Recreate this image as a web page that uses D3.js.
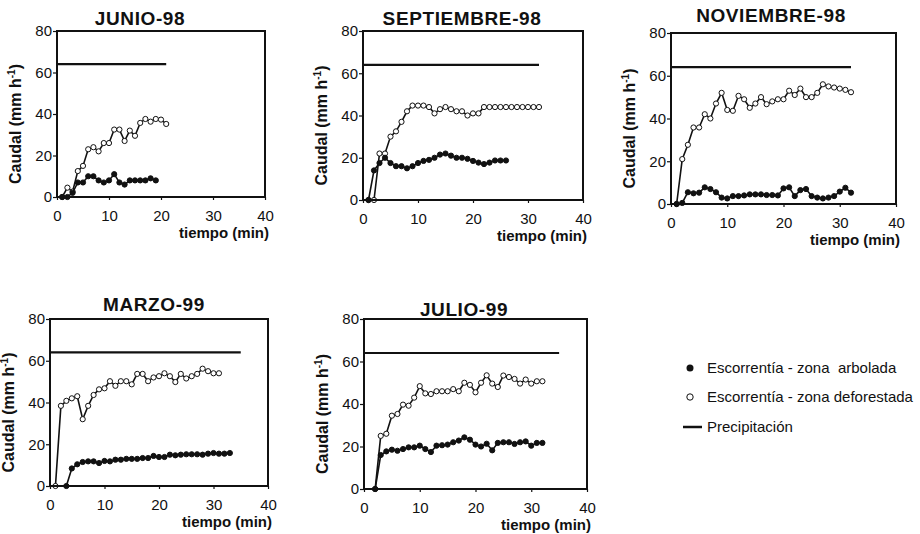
<!DOCTYPE html>
<html>
<head>
<meta charset="utf-8">
<script src="https://cdn.jsdelivr.net/npm/d3@7"></script>
<style>
    body { margin: 0; background: #fff; }
    svg text { font-family: "Liberation Sans", Arial, sans-serif; fill: #111; }
    .tick text { font-size: 15px; }
    .title { font-size: 19px; font-weight: bold; letter-spacing: 0.6px; }
    .xlab, .ylab { font-size: 15px; font-weight: bold; }
    .ylab { font-size: 16px; }
    .legend text { font-size: 15px; white-space: pre; }
</style>
</head>
<body>
<div id="chart"></div>
<script>

// readings every minute, first one at t = 1 min (null = no reading)
var junArbolada = [0, 0, 2, 7, 7, 10, 10, 8, 7, 8, 11, 7, 6, 8, 8, 8, 8, 9, 8];
var junDeforestada = [0, 4.5, 2.6, 12.5, 15, 23, 24, 22, 26, 26, 32.5, 32.5, 27, 32, 29.5,
    35.7, 37.6, 36.3, 37.6, 37.3, 35.2];

var sepArbolada = [0, 14, 17.5, 20, 17.5, 16, 16, 15, 16, 17.5, 18.5, 19, 20, 21.5, 22,
    21, 20, 20, 19.5, 18.5, 17.7, 17, 17.7, 18.7, 18.7, 18.7];
var sepDeforestada = [0, 0, 22, 22, 30, 32.5, 37, 42, 44.7, 44.7, 44.7, 44, 41, 43, 44,
    43, 42, 42, 40, 41, 41, 44, 44, 44, 44, 44, 44, 44, 44, 44, 44, 44];

var novArbolada = [0, 0.5, 5.5, 5, 5.3, 7.8, 7, 5.5, 3, 2.6, 3.7, 3.7, 4, 4.5, 4.5, 4.5,
    4.2, 4.2, 4, 7.3, 7.8, 3.7, 6.5, 7, 3.7, 3, 2.6, 3, 3.7, 5.8, 7.6, 5.3];
var novDeforestada = [0, 21, 27.7, 35.8, 35.8, 42, 40, 47, 52, 44, 43.6, 50.6, 49, 45, 47,
    50, 46.7, 48, 49, 49, 53, 51, 54, 50, 50, 52, 56, 55, 54.5, 54, 53.4, 52.3];

var marArbolada = [null, null, 0, 8.4, 10.4, 11.5, 11.8, 11.8, 11, 12, 11.8, 12.6, 12.6,
    13, 13, 13, 13.4, 13.4, 14.4, 13.9, 13.9, 15, 14.7, 15, 15.2, 15.2, 15.2, 15, 15.5,
    15.8, 15.5, 15.5, 15.8];
var marDeforestada = [0, 38.4, 40.8, 42, 43, 32, 38.4, 43.6, 46.3, 46.8, 50.2, 48, 50.2,
    50.2, 48.7, 53.7, 53.7, 50.2, 52, 52.6, 54, 52.6, 49.8, 53.7, 51.5, 52.6, 53.7, 56.2,
    55, 54, 54];

var julArbolada = [null, 0, 16, 17.7, 18.5, 18, 18.8, 19.6, 19.6, 20.4, 18.8, 17.4, 20.4,
    20.6, 20.9, 22, 22.8, 24.3, 23.2, 20.9, 20, 21.3, 18.2, 21.7, 22, 22, 21.2, 22, 22.4,
    20.4, 21.7, 21.7];
var julDeforestada = [null, 0, 25, 26, 34.5, 35.3, 39.7, 39.2, 43, 48.4, 45, 44.7, 46, 46,
    46, 47, 46, 50, 49, 45.5, 50, 53.5, 49.6, 48, 53.4, 52.7, 51.8, 49.6, 51.5, 49.6, 50.7,
    50.7];

// rainfall simulation: constant intensity from t = 0 to end of run
var precipRate = 64;
var precipEnd = [21, 32, 32, 35, 35];

var titles = ["JUNIO-98", "SEPTIEMBRE-98", "NOVIEMBRE-98", "MARZO-99", "JULIO-99"];
var xTicks = [0, 10, 20, 30, 40];
var yTicks = [0, 20, 40, 60, 80];
var legendLabels = ["Escorrentía - zona  arbolada", "Escorrentía - zona deforestada",
    "Precipitación"];


// figure settings
var fig = {
    w: 920,
    h: 534,
    xdomain: [0, 40],
    ydomain: [0, 80],
    boxwidth: 2, // frame around each panel
    linewidth: 1.6, // runoff lines
    precipwidth: 2.2, // rainfall line
    r: 2.6, // marker radius
    ink: "#111"
};

// panel frames [left, top, right, bottom] and title anchor [x, baseline]
var panels = [
    {box: [57, 31, 265, 197], title: [140, 25], arb: junArbolada, def: junDeforestada},
    {box: [363, 31, 583, 200], title: [462, 25], arb: sepArbolada, def: sepDeforestada},
    {box: [671, 33, 896, 204], title: [771, 22], arb: novArbolada, def: novDeforestada},
    {box: [50, 319, 268, 486], title: [154, 311], arb: marArbolada, def: marDeforestada},
    {box: [364, 319, 587, 489], title: [464, 316], arb: julArbolada, def: julDeforestada}
];


/**
 * Turn a list of per-minute readings into points, skipping missing ones
 */
function toPoints(values) {
    return values.map(function (v, i) {
        return {t: i + 1, v: v};
    }).filter(function (d) {
        return d.v !== null;
    });
}


var svg = d3.select("#chart").append("svg")
        .attr("width", fig.w).attr("height", fig.h);


/**
 * Draw one panel
 *
 * @param p panel settings (frame, title position, series)
 * @param k panel index
 */
function drawPanel(p, k) {

    var b = p.box;
    var xscale = d3.scaleLinear().domain(fig.xdomain).range([b[0], b[2]]);
    var yscale = d3.scaleLinear().domain(fig.ydomain).range([b[3], b[1]]);
    var g = svg.append("g").attr("class", "panel");

    // axes
    var gx = g.append("g").attr("transform", "translate(0," + b[3] + ")")
            .call(d3.axisBottom(xscale).tickValues(xTicks).tickSize(3).tickPadding(10));
    var gy = g.append("g").attr("transform", "translate(" + b[0] + ",0)")
            .call(d3.axisLeft(yscale).tickValues(yTicks).tickSize(4).tickPadding(1));
    [gx, gy].forEach(function (a) {
        a.select(".domain").remove();
        a.selectAll(".tick line").attr("stroke", fig.ink).attr("stroke-width", 1.2);
        a.selectAll(".tick text").attr("font-family", null).attr("font-size", null);
    });

    // rainfall
    g.append("line")
            .attr("x1", xscale(0)).attr("x2", xscale(precipEnd[k]))
            .attr("y1", yscale(precipRate)).attr("y2", yscale(precipRate))
            .attr("stroke", fig.ink).attr("stroke-width", fig.precipwidth);

    var line = d3.line()
            .x(function (d) { return xscale(d.t); })
            .y(function (d) { return yscale(d.v); });

    // runoff, deforested plot (open) then wooded plot (filled)
    [{pts: toPoints(p.def), fill: "#fff"}, {pts: toPoints(p.arb), fill: fig.ink}]
            .forEach(function (s) {
                g.append("path").datum(s.pts).attr("d", line)
                        .attr("fill", "none").attr("stroke", fig.ink)
                        .attr("stroke-width", fig.linewidth);
                g.selectAll(null).data(s.pts).enter().append("circle")
                        .attr("cx", function (d) { return xscale(d.t); })
                        .attr("cy", function (d) { return yscale(d.v); })
                        .attr("r", fig.r)
                        .attr("fill", s.fill)
                        .attr("stroke", fig.ink).attr("stroke-width", 1);
            });

    // frame
    g.append("rect")
            .attr("x", b[0]).attr("y", b[1])
            .attr("width", b[2] - b[0]).attr("height", b[3] - b[1])
            .attr("fill", "none").attr("stroke", fig.ink)
            .attr("stroke-width", fig.boxwidth);

    // titles
    g.append("text").attr("class", "title").text(titles[k])
            .attr("x", p.title[0]).attr("y", p.title[1])
            .attr("text-anchor", "middle");
    g.append("text").attr("class", "xlab").text("tiempo (min)")
            .attr("x", b[2] + 4).attr("y", b[3] + 41)
            .attr("text-anchor", "end");
    var yl = g.append("text").attr("class", "ylab")
            .attr("text-anchor", "middle")
            .attr("transform", "translate(" + (b[0] - 36) + ","
                    + ((b[1] + b[3]) / 2 + 10) + ") rotate(-90)");
    yl.append("tspan").text("Caudal (mm h");
    yl.append("tspan").text("-1").attr("font-size", "10px").attr("dy", -6);
    yl.append("tspan").text(")").attr("dy", 6);
}

panels.forEach(drawPanel);


// legend
var lg = svg.append("g").attr("class", "legend");
var ly = [368, 397, 427];

lg.append("circle").attr("cx", 690).attr("cy", ly[0]).attr("r", 3.5)
        .attr("fill", fig.ink);
lg.append("circle").attr("cx", 690).attr("cy", ly[1]).attr("r", 3.2)
        .attr("fill", "#fff").attr("stroke", fig.ink).attr("stroke-width", 1);
lg.append("line").attr("x1", 683).attr("x2", 702)
        .attr("y1", ly[2]).attr("y2", ly[2])
        .attr("stroke", fig.ink).attr("stroke-width", 2.5);

lg.selectAll("text").data(legendLabels).enter().append("text")
        .text(function (d) { return d; })
        .attr("x", 707)
        .attr("y", function (d, i) { return ly[i]; })
        .attr("dy", "0.35em");

</script>
</body>
</html>
